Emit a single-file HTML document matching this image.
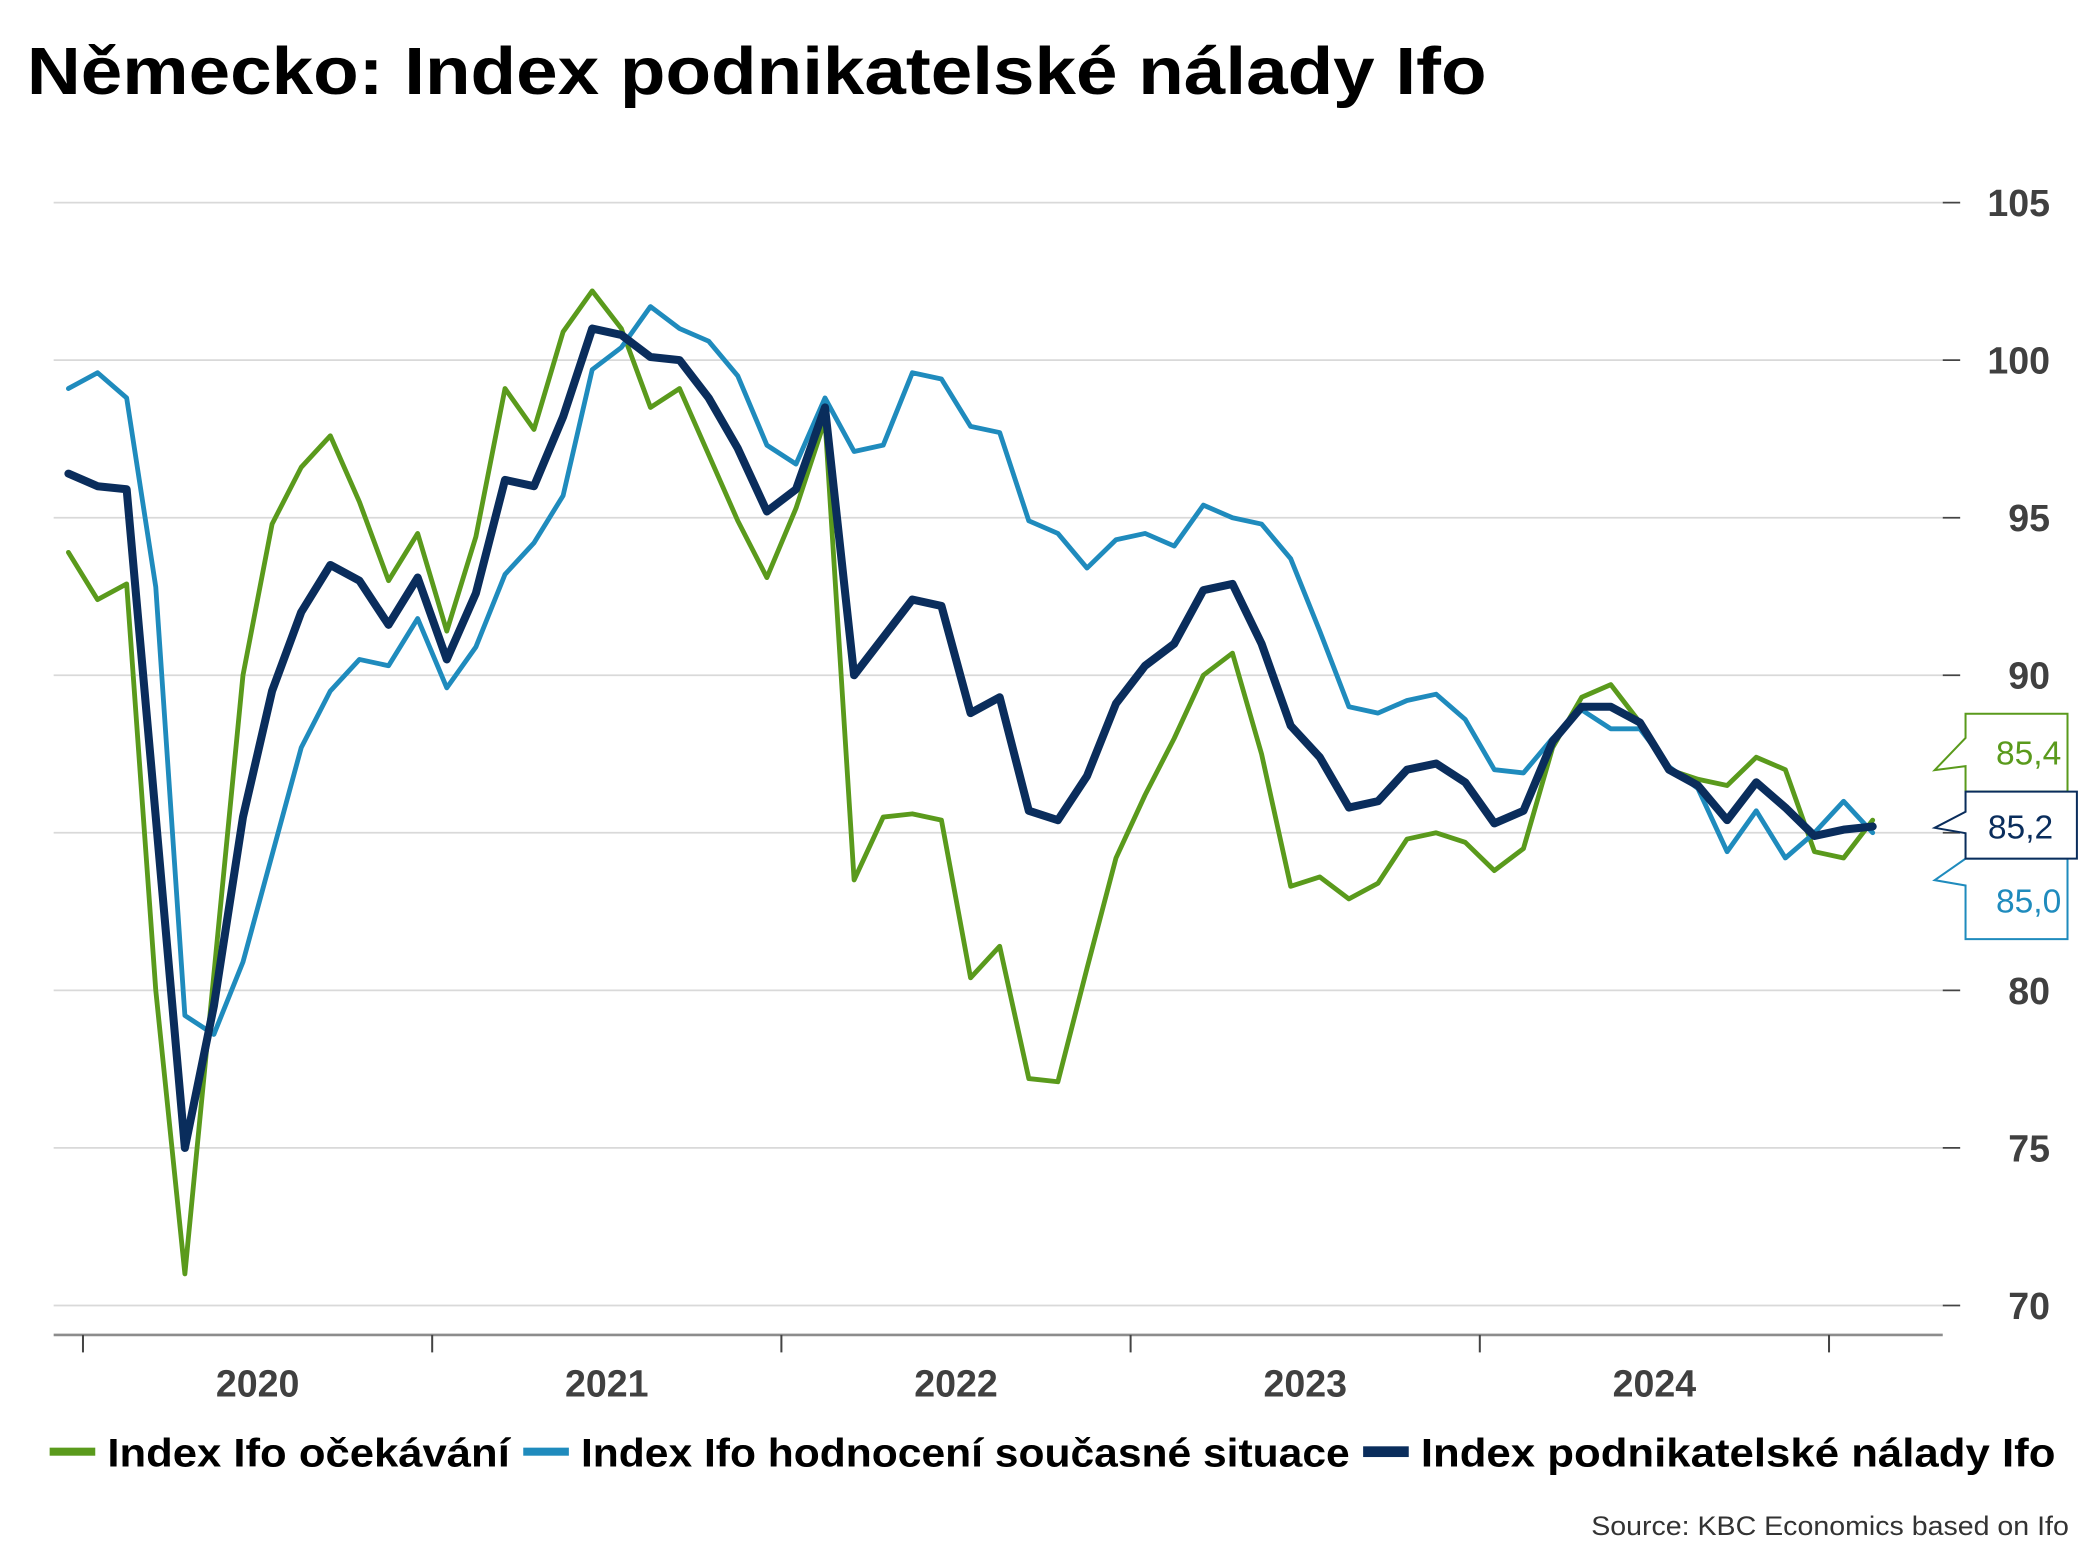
<!DOCTYPE html>
<html><head><meta charset="utf-8"><style>
html,body{margin:0;padding:0;background:#fff;}
svg{display:block;}
text{font-family:"Liberation Sans",sans-serif;}
</style></head><body>
<svg id="chart" width="2093" height="1568" viewBox="0 0 1560 1168.7" preserveAspectRatio="none" xmlns="http://www.w3.org/2000/svg">
<text x="20" y="70" font-size="50" font-weight="bold" fill="#000" textLength="1088" lengthAdjust="spacingAndGlyphs">Německo: Index podnikatelské nálady Ifo</text>
<g id="grid"></g>
<g id="axes"></g>
<g id="series"></g>
<g>
<polygon points="1465,532 1541,532 1541,590 1465,590 1465,571 1442,574 1465,550" fill="#fff" stroke="#5a9a1c" stroke-width="1.5"/>
<text x="1512" y="570" font-size="25" fill="#5a9a1c" text-anchor="middle">85,4</text>
</g>
<g>
<polygon points="1465,640 1541,640 1541,700 1465,700 1465,660 1442,656" fill="#fff" stroke="#1f8bbd" stroke-width="1.5"/>
<text x="1512" y="680" font-size="25" fill="#1f8bbd" text-anchor="middle">85,0</text>
</g>
<g>
<polygon points="1465,590 1548,590 1548,640 1465,640 1465,621 1442,617 1465,605" fill="#fff" stroke="#0a2d5c" stroke-width="1.5"/>
<text x="1506" y="625" font-size="25" fill="#0a2d5c" text-anchor="middle">85,2</text>
</g>
<g>
<rect x="37" y="1079" width="34" height="6" fill="#5a9a1c"/>
<text x="80" y="1093" font-size="30" font-weight="bold" fill="#000" textLength="300" lengthAdjust="spacingAndGlyphs">Index Ifo očekávání</text>
<rect x="390" y="1079" width="34" height="6" fill="#1f8bbd"/>
<text x="433" y="1093" font-size="30" font-weight="bold" fill="#000" textLength="573" lengthAdjust="spacingAndGlyphs">Index Ifo hodnocení současné situace</text>
<rect x="1016" y="1078" width="34" height="8" fill="#0a2d5c"/>
<text x="1059" y="1093" font-size="30" font-weight="bold" fill="#000" textLength="473" lengthAdjust="spacingAndGlyphs">Index podnikatelské nálady Ifo</text>
</g>
<text x="1542" y="1144" font-size="20" fill="#333" text-anchor="end" textLength="356" lengthAdjust="spacingAndGlyphs">Source: KBC Economics based on Ifo</text>
</svg>
<script>
const expectations = [93.9,92.4,92.9,80.0,71.0,80.5,90.0,94.8,96.6,97.6,95.5,93.0,94.5,91.4,94.4,99.1,97.8,100.9,102.2,101.0,98.5,99.1,97.0,94.9,93.1,95.3,98.1,83.5,85.5,85.6,85.4,80.4,81.4,77.2,77.1,80.7,84.2,86.2,88.0,90.0,90.7,87.5,83.3,83.6,82.9,83.4,84.8,85.0,84.7,83.8,84.5,87.7,89.3,89.7,88.5,87.0,86.7,86.5,87.4,87.0,84.4,84.2,85.4];
const currentSituation = [99.1,99.6,98.8,92.8,79.2,78.6,80.9,84.3,87.7,89.5,90.5,90.3,91.8,89.6,90.9,93.2,94.2,95.7,99.7,100.4,101.7,101.0,100.6,99.5,97.3,96.7,98.8,97.1,97.3,99.6,99.4,97.9,97.7,94.9,94.5,93.4,94.3,94.5,94.1,95.4,95.0,94.8,93.7,91.4,89.0,88.8,89.2,89.4,88.6,87.0,86.9,88.0,88.9,88.3,88.3,87.1,86.4,84.4,85.7,84.2,85.0,86.0,85.0];
const climate = [96.4,96.0,95.9,85.5,75.0,79.5,85.5,89.5,92.0,93.5,93.0,91.6,93.1,90.5,92.6,96.2,96.0,98.2,101.0,100.8,100.1,100.0,98.8,97.2,95.2,95.9,98.5,90.0,91.2,92.4,92.2,88.8,89.3,85.7,85.4,86.8,89.1,90.3,91.0,92.7,92.9,91.0,88.4,87.4,85.8,86.0,87.0,87.2,86.6,85.3,85.7,87.9,89.0,89.0,88.5,87.0,86.5,85.4,86.6,85.8,84.9,85.1,85.2];
const yTicks = [70,75,80,85,90,95,100,105];
const yearLabels = ["2020","2021","2022","2023","2024"];

const NS = "http://www.w3.org/2000/svg";
function yScale(v){ return 151 + (105 - v) * 23.486; }
function xScale(i){ return 51 + 21.69 * i; }
function mk(tag, attrs, parent){ const e=document.createElementNS(NS,tag); for(const k in attrs) e.setAttribute(k,attrs[k]); parent.appendChild(e); return e; }

const grid=document.getElementById('grid'), axes=document.getElementById('axes'), series=document.getElementById('series');
yTicks.forEach(v=>{
  const y=yScale(v);
  const gl=mk('line',{x1:40,x2:1448,y1:y,y2:y,stroke:'#d9d9d9','stroke-width':1.3},grid);
  
  
  mk('line',{x1:1448,x2:1461,y1:y,y2:y,stroke:'#444','stroke-width':1.3},axes);
  const t=mk('text',{x:1528,y:y+10,'font-size':28,'font-weight':'bold',fill:'#404040','text-anchor':'end'},axes);
  t.textContent=String(v);
  
  
});
const ax=mk('line',{x1:40,x2:1448,y1:995,y2:995,stroke:'#8c8c8c','stroke-width':2},axes);


for(let k=0;k<=yearLabels.length;k++){
  const x=xScale(0.5+12*k);
  mk('line',{x1:x,x2:x,y1:995,y2:1008,stroke:'#444','stroke-width':1.5},axes);
}
yearLabels.forEach((lab,k)=>{
  const t=mk('text',{x:xScale(6.5+12*k),y:1041,'font-size':28,'font-weight':'bold',fill:'#404040','text-anchor':'middle'},axes);
  t.textContent=lab;
  
  
});
function drawLine(arr,color,w,name){
  const d=arr.map((v,i)=>(i?'L':'M')+xScale(i).toFixed(1)+','+yScale(v).toFixed(1)).join(' ');
  const p=mk('path',{d:d,fill:'none',stroke:color,'stroke-width':w,'stroke-linejoin':'round','stroke-linecap':'round'},series);
  
  
}
drawLine(expectations,'#5a9a1c',3.6,'line-expectations');
drawLine(currentSituation,'#1f8bbd',3.6,'line-current-situation');
drawLine(climate,'#0a2d5c',6,'line-business-climate');
</script>
</body></html>
